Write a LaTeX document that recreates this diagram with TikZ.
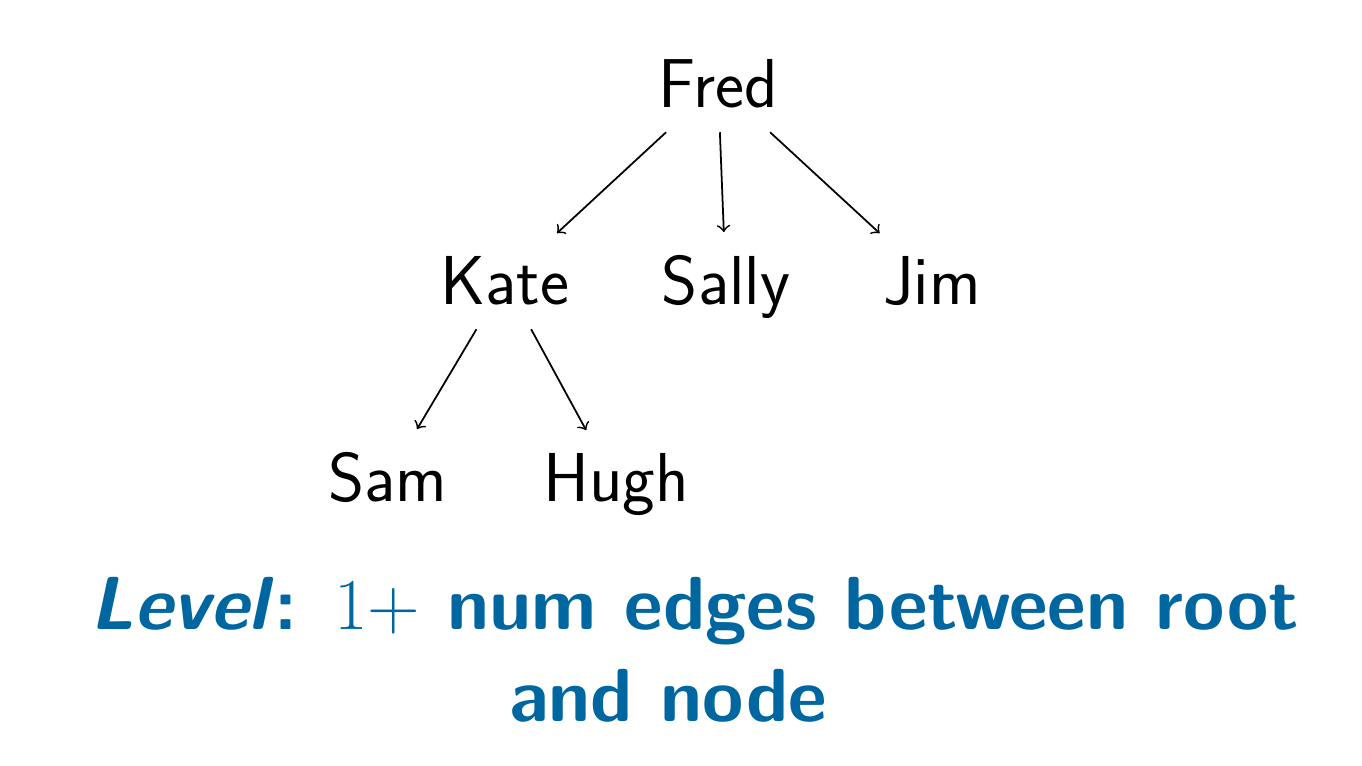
\documentclass[tikz,border=0pt]{standalone}
\usepackage{tikz}
\usepackage{xcolor}
\definecolor{levelblue}{RGB}{0,102,160}
\tikzset{person/.style={font=\fontsize{19.7}{24}\selectfont\sffamily, anchor=base, inner sep=6.5pt},
	caption/.style={font=\fontsize{21.4}{26}\selectfont\sffamily\bfseries, color=levelblue, anchor=base}}
\begin{document}
\begin{tikzpicture}[line width=0.5pt]
	\useasboundingbox (0,0) rectangle (13.62,-7.66);
	%Knoten
	\node[person] (fred)  at (7.18,-1.08) {Fred};
	\node[person] (kate)  at (5.05,-3.05) {Kate};
	\node[person] (sally) at (7.26,-3.05) {Sally};
	\node[person] (jim)   at (9.32,-3.05) {Jim};
	\node[person] (sam)   at (3.88,-5.02) {Sam};
	\node[person] (hugh)  at (6.16,-5.02) {Hugh};
	%Kanten
	\foreach \kind in {kate,sally,jim}
		\draw[->] (fred) -- (\kind);
	\foreach \kind in {sam,hugh}
		\draw[->] (kate) -- (\kind);
	%Definition
	\node[caption] (level) at (6.95,-6.30) {\textit{Level}: $1+$ num edges between root};
	\node[caption] (levelb) at (6.68,-7.22) {and node};
\end{tikzpicture}
\end{document}
